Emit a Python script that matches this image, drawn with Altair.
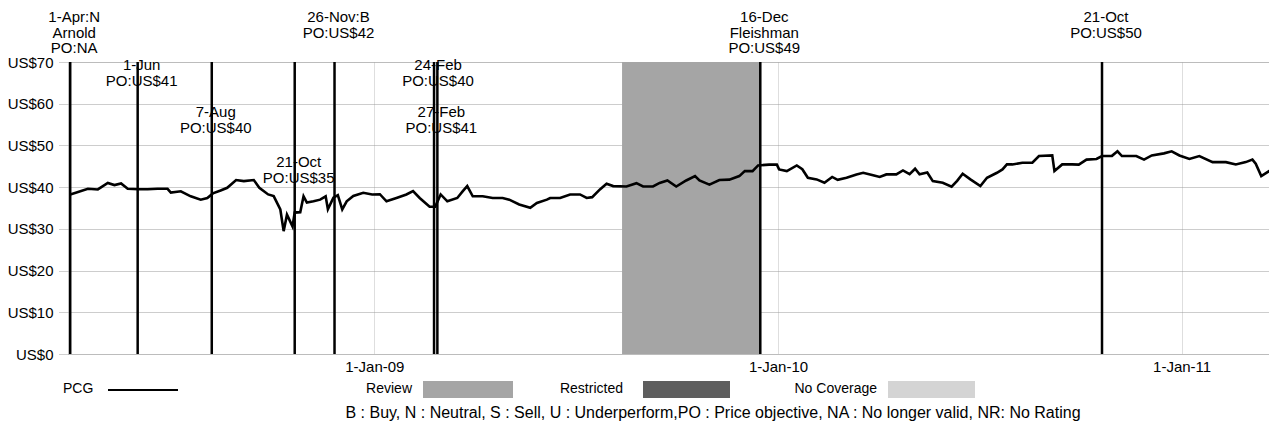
import altair as alt
import pandas as pd

# ---------------- data ----------------
price_dates = [
    "2008-04-01", "2008-04-06", "2008-04-17", "2008-04-26", "2008-05-05", "2008-05-11",
    "2008-05-17", "2008-05-23", "2008-06-02", "2008-06-10", "2008-06-19", "2008-06-28",
    "2008-07-01", "2008-07-10", "2008-07-19", "2008-07-28", "2008-08-03", "2008-08-08",
    "2008-08-15", "2008-08-21", "2008-08-29", "2008-09-05", "2008-09-14", "2008-09-19",
    "2008-09-27", "2008-10-02", "2008-10-08", "2008-10-11", "2008-10-14", "2008-10-19",
    "2008-10-21", "2008-10-26", "2008-10-29", "2008-11-01", "2008-11-07", "2008-11-13",
    "2008-11-18", "2008-11-20", "2008-11-25", "2008-11-29", "2008-12-03", "2008-12-07",
    "2008-12-13", "2008-12-22", "2008-12-30", "2009-01-06", "2009-01-12", "2009-01-21",
    "2009-01-30", "2009-02-05", "2009-02-11", "2009-02-20", "2009-02-25", "2009-03-02",
    "2009-03-08", "2009-03-17", "2009-03-22", "2009-03-26", "2009-03-31", "2009-04-09",
    "2009-04-18", "2009-04-27", "2009-05-03", "2009-05-12", "2009-05-22", "2009-05-28",
    "2009-06-06", "2009-06-09", "2009-06-18", "2009-06-27", "2009-07-06", "2009-07-12",
    "2009-07-17", "2009-07-24", "2009-07-30", "2009-08-05", "2009-08-17", "2009-08-26",
    "2009-09-01", "2009-09-10", "2009-09-16", "2009-09-23", "2009-10-01", "2009-10-10",
    "2009-10-18", "2009-10-22", "2009-10-31", "2009-11-09", "2009-11-18", "2009-11-27",
    "2009-12-02", "2009-12-09", "2009-12-14", "2009-12-24", "2009-12-31", "2010-01-02",
    "2010-01-09", "2010-01-18", "2010-01-23", "2010-01-28", "2010-02-05", "2010-02-12",
    "2010-02-19", "2010-02-24", "2010-03-04", "2010-03-13", "2010-03-19", "2010-03-28",
    "2010-04-03", "2010-04-09", "2010-04-18", "2010-04-24", "2010-04-30", "2010-05-05",
    "2010-05-09", "2010-05-16", "2010-05-21", "2010-05-30", "2010-06-07", "2010-06-12",
    "2010-06-17", "2010-06-24", "2010-07-03", "2010-07-09", "2010-07-18", "2010-07-23",
    "2010-07-27", "2010-08-01", "2010-08-10", "2010-08-19", "2010-08-25", "2010-09-06",
    "2010-09-08", "2010-09-15", "2010-09-24", "2010-09-30", "2010-10-07", "2010-10-16",
    "2010-10-21", "2010-10-30", "2010-11-04", "2010-11-08", "2010-11-21", "2010-11-28",
    "2010-12-05", "2010-12-16", "2010-12-23", "2010-12-30", "2011-01-08", "2011-01-17",
    "2011-01-29", "2011-02-10", "2011-02-19", "2011-02-28", "2011-03-06", "2011-03-09",
    "2011-03-14", "2011-03-21", "2011-03-26",
]
price_values = [
    38.25, 38.65, 39.6, 39.45, 41.0, 40.5,
    40.9, 39.6, 39.5, 39.5, 39.6, 39.6,
    38.7, 39.0, 37.8, 37.0, 37.4, 38.5,
    39.2, 39.85, 41.7, 41.45, 41.7, 39.85,
    38.25, 37.85, 34.65, 29.45, 33.4, 30.6,
    33.9, 34.0, 37.8, 36.3, 36.6, 37.0,
    37.8, 34.7, 37.5, 38.1, 34.65, 36.6,
    37.9, 38.65, 38.25, 38.3, 36.6, 37.4,
    38.25, 39.05, 37.4, 35.3, 35.3, 38.25,
    36.6, 37.4, 39.05, 40.25, 37.8, 37.8,
    37.4, 37.4, 37.0, 35.85, 35.05, 36.2,
    37.0, 37.4, 37.4, 38.25, 38.25, 37.4,
    37.6, 39.45, 40.8, 40.25, 40.15, 40.95,
    40.15, 40.15, 41.0, 41.6, 40.15, 41.6,
    42.65, 41.6, 40.6, 41.7, 41.8, 42.65,
    43.85, 43.85, 45.2, 45.4, 45.4, 44.25,
    43.85, 45.2, 44.3, 42.25, 41.85, 41.05,
    42.45, 41.75, 42.25, 43.05, 43.45, 42.85,
    42.45, 43.05, 43.05, 44.0, 43.1, 44.4,
    43.1, 43.5, 41.45, 41.05, 40.1, 41.5,
    43.2, 41.85, 40.25, 42.25, 43.45, 44.25,
    45.45, 45.45, 45.85, 45.85, 47.45, 47.6,
    43.85, 45.45, 45.45, 45.4, 46.6, 46.75,
    47.45, 47.5, 48.6, 47.45, 47.45, 46.6,
    47.6, 48.1, 48.6, 47.6, 46.75, 47.45,
    46.0, 46.0, 45.45, 46.0, 46.6, 45.6,
    42.65, 43.85, 43.6,
]

event_dates = ["2008-04-01", "2008-06-01", "2008-08-07", "2008-10-21", "2008-11-26",
               "2009-02-24", "2009-02-27", "2009-12-16", "2010-10-21"]
event_labels = ["1-Apr:N\nArnold\nPO:NA", "1-Jun\nPO:US$41", "7-Aug\nPO:US$40",
                "21-Oct\nPO:US$35", "26-Nov:B\nPO:US$42", "24-Feb\nPO:US$40",
                "27-Feb\nPO:US$41", "16-Dec\nFleishman\nPO:US$49", "21-Oct\nPO:US$50"]
event_tiers = [0, 1, 2, 3, 0, 1, 2, 0, 0]

review_start = ["2009-08-13"]
review_end = ["2009-12-16"]

y_ticks = [0, 10, 20, 30, 40, 50, 60, 70]
x_tick_years = [2009, 2010, 2011]

legend_names = ["Review", "Restricted", "No Coverage"]
series_name = "PCG"
footer_text = ("B : Buy,  N : Neutral,  S : Sell,  U : Underperform,PO : Price objective,  "
               "NA : No longer valid,  NR: No Rating")

# ---------------- layout / style ----------------
W, H = 1201, 292
FONT = "Liberation Sans, Arial, sans-serif"
FS = 15
tier_y = {0: -52, 1: -4, 2: 43, 3: 93}
legend_fill = {"Review": "#a5a5a5", "Restricted": "#5e5e5e", "No Coverage": "#d4d4d4"}
legend_text_right = {"Review": 344, "Restricted": 555, "No Coverage": 809}
legend_patch = {"Review": (355, 445), "Restricted": (575, 662), "No Coverage": (820, 907)}
LEG_Y = 327

price_df = pd.DataFrame({"date": pd.to_datetime(price_dates), "price": price_values})
event_df = pd.DataFrame({"date": pd.to_datetime(event_dates), "label": event_labels,
                         "tier": event_tiers})
event_df["ty"] = event_df["tier"].map(tier_y)
review_df = pd.DataFrame({"start": pd.to_datetime(review_start),
                          "end": pd.to_datetime(review_end)})

x_scale = alt.Scale(domain=[alt.DateTime(year=2008, month=3, date=30),
                            alt.DateTime(year=2011, month=3, date=21)])
x_axis = alt.Axis(values=[alt.DateTime(year=yr, month=1, date=1) for yr in x_tick_years],
                  format="%-d-%b-%y", title=None, ticks=False, domain=False,
                  labelPadding=5, grid=True, gridColor="#bdbdbd", gridDash=[1, 1],
                  labelFont=FONT, labelFontSize=FS, labelColor="black")
y_axis = alt.Axis(values=y_ticks, labelExpr="'US$' + datum.value", title=None,
                  tickSize=10, tickColor="#a0a0a0", tickDash=[1, 1], labelPadding=5,
                  domain=True, domainColor="#b0b0b0", domainDash=[1, 1],
                  grid=True, gridColor="#9a9a9a", gridDash=[1, 1],
                  labelFont=FONT, labelFontSize=FS, labelColor="black")

review = alt.Chart(review_df).mark_rect(color=legend_fill["Review"]).encode(
    x=alt.X("start:T", scale=x_scale, axis=x_axis),
    x2="end:T",
    y=alt.value(0), y2=alt.value(H),
)

line = alt.Chart(price_df).mark_line(color="black", strokeWidth=2.6, clip=True).encode(
    x=alt.X("date:T", scale=x_scale, axis=x_axis),
    y=alt.Y("price:Q", scale=alt.Scale(domain=[0, 70], nice=False), axis=y_axis),
)

rules = alt.Chart(event_df).mark_rule(color="black", strokeWidth=2.5).encode(
    x=alt.X("date:T", scale=x_scale),
    y=alt.value(0), y2=alt.value(H),
)

labels = alt.Chart(event_df).mark_text(
    font=FONT, fontSize=FS, lineBreak="\n", lineHeight=15.5, baseline="top",
    align="center", dx=4, color="black"
).encode(
    x=alt.X("date:T", scale=x_scale),
    y=alt.Y("ty:Q", scale=None),
    text="label:N",
)

# legend
leg_df = pd.DataFrame({"name": legend_names})
leg_df["xr"] = leg_df["name"].map(legend_text_right)
leg_df["p0"] = leg_df["name"].map(lambda n: legend_patch[n][0])
leg_df["p1"] = leg_df["name"].map(lambda n: legend_patch[n][1])
leg_df["fill"] = leg_df["name"].map(legend_fill)

leg_text = alt.Chart(leg_df).mark_text(font=FONT, fontSize=14, align="right",
                                       baseline="middle", color="black").encode(
    x=alt.X("xr:Q", scale=None), y=alt.value(LEG_Y), text="name:N")
leg_patch = alt.Chart(leg_df).mark_rect().encode(
    x=alt.X("p0:Q", scale=None), x2="p1:Q",
    y=alt.value(LEG_Y - 8), y2=alt.value(LEG_Y + 9),
    color=alt.Color("fill:N", scale=None))

pcg_df = pd.DataFrame({"name": [series_name]})
pcg_text = alt.Chart(pcg_df).mark_text(font=FONT, fontSize=14, align="left",
                                       baseline="middle", color="black").encode(
    x=alt.value(-5), y=alt.value(LEG_Y), text="name:N")
pcg_line = alt.Chart(pcg_df).mark_rule(color="black", strokeWidth=2).encode(
    x=alt.value(40), x2=alt.value(110), y=alt.value(LEG_Y + 1))

foot_df = pd.DataFrame({"t": [footer_text]})
footer = alt.Chart(foot_df).mark_text(font=FONT, fontSize=16, align="center",
                                      baseline="middle", color="black").encode(
    x=alt.value(645), y=alt.value(351), text="t:N")

chart = alt.layer(review, line, rules, labels, leg_text, leg_patch, pcg_text, pcg_line,
                  footer).properties(
    width=W, height=H,
    padding={"left": 60, "top": 54, "right": 0, "bottom": 70},
    autosize=alt.AutoSizeParams(type="none"),
).configure_view(stroke=None).configure(background="white")

chart.save("out.html", embed_options={"renderer": "svg", "actions": False})
